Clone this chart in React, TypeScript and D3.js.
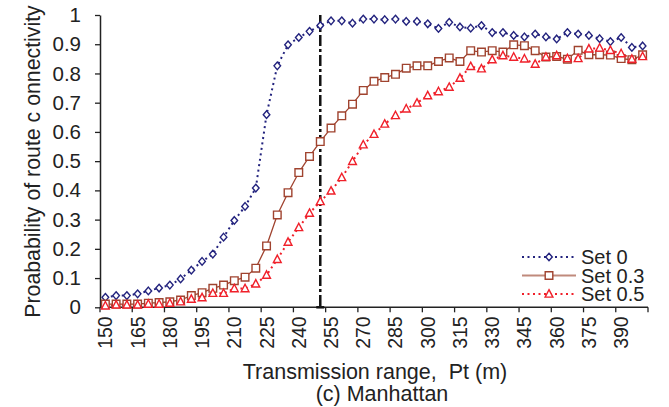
import { useRef, useEffect } from "react";
import * as d3 from "d3";

// transmission range categories (m)
const ranges = d3.range(150, 401, 5);

const set0 = [
  0.034, 0.04, 0.04, 0.046, 0.056, 0.066, 0.076, 0.097, 0.127, 0.157,
  0.182, 0.24, 0.297, 0.345, 0.408, 0.659, 0.826, 0.898, 0.923, 0.944,
  0.964, 0.98, 0.98, 0.972, 0.986, 0.986, 0.984, 0.986, 0.978, 0.978,
  0.97, 0.954, 0.975, 0.959, 0.955, 0.964, 0.94, 0.94, 0.93, 0.925,
  0.935, 0.925, 0.918, 0.94, 0.935, 0.93, 0.919, 0.909, 0.923, 0.889,
  0.894,
];

const set03 = [
  0.011, 0.011, 0.011, 0.011, 0.014, 0.016, 0.019, 0.025, 0.04, 0.05,
  0.065, 0.076, 0.091, 0.103, 0.134, 0.21, 0.316, 0.392, 0.461, 0.516,
  0.567, 0.613, 0.655, 0.695, 0.742, 0.773, 0.786, 0.797, 0.818, 0.826,
  0.826, 0.841, 0.853, 0.841, 0.878, 0.873, 0.878, 0.873, 0.898, 0.895,
  0.878, 0.856, 0.858, 0.849, 0.879, 0.864, 0.864, 0.863, 0.851, 0.847,
  0.864,
];

const set05 = [
  0.005, 0.008, 0.008, 0.008, 0.011, 0.011, 0.014, 0.019, 0.028, 0.033,
  0.048, 0.048, 0.064, 0.064, 0.08, 0.11, 0.164, 0.223, 0.273, 0.322,
  0.362, 0.398, 0.444, 0.499, 0.556, 0.592, 0.627, 0.656, 0.679, 0.699,
  0.724, 0.738, 0.753, 0.784, 0.824, 0.816, 0.847, 0.861, 0.856, 0.85,
  0.832, 0.856, 0.861, 0.851, 0.851, 0.884, 0.887, 0.879, 0.868, 0.849,
  0.858,
];

const yTicks = [0, 0.1, 0.2, 0.3, 0.4, 0.5, 0.6, 0.7, 0.8, 0.9, 1];
const markerRange = 250;

type Series = {
  name: string;
  values: number[];
  color: string;
  dash: string | null;
  shape: "diamond" | "square" | "triangle";
};

const series: Series[] = [
  { name: "Set 0", values: set0, color: "#23237e", dash: "2,3.5", shape: "diamond" },
  { name: "Set 0.3", values: set03, color: "#a0432f", dash: null, shape: "square" },
  { name: "Set 0.5", values: set05, color: "#f0202a", dash: "2,3.5", shape: "triangle" },
];

const W = 669;
const H = 407;
const margin = { left: 100, right: 21, top: 15, bottom: 100 };
const FONT = "'Liberation Sans', Arial, sans-serif";
const FS = 20;

function markerPath(shape: Series["shape"]) {
  if (shape === "diamond") return "M0,-3.8L3.3,0L0,3.8L-3.3,0Z";
  if (shape === "square") return "M-3.8,-3.8H3.8V3.8H-3.8Z";
  return "M0,-4.3L3.9,3.1L-3.9,3.1Z";
}

function Chart() {
  const ref = useRef<SVGSVGElement>(null);

  useEffect(() => {
    if (!ref.current) return;
    const svg = d3.select(ref.current);
    svg.selectAll("*").remove();

    const x = d3
      .scaleBand<number>()
      .domain(ranges)
      .range([margin.left, W - margin.right])
      .padding(0);
    const cx = (r: number) => (x(r) as number) + x.bandwidth() / 2;

    const y = d3
      .scaleLinear()
      .domain([0, 1])
      .range([H - margin.bottom + 0.3, margin.top]);
    const y0 = y(0);

    // y axis
    const yAxis = svg
      .append("g")
      .attr("transform", `translate(${margin.left},0)`)
      .call(
        d3
          .axisLeft(y)
          .tickValues(yTicks)
          .tickSize(5)
          .tickSizeOuter(0)
          .tickPadding(14)
          .tickFormat((d) => d3.format("~g")(d as number))
      );
    yAxis.select(".domain").attr("stroke", "#222").attr("stroke-width", 1.5);
    yAxis.selectAll(".tick line").attr("stroke", "#222").attr("stroke-width", 1.3);
    yAxis
      .selectAll("text")
      .attr("font-family", FONT)
      .attr("font-size", 20.5)
      .attr("fill", "#222");

    // x axis: tick marks on category boundaries every 3 categories
    const xg = svg.append("g");
    xg.append("line")
      .attr("x1", margin.left)
      .attr("x2", W - margin.right)
      .attr("y1", y0)
      .attr("y2", y0)
      .attr("stroke", "#222")
      .attr("stroke-width", 1.5);
    const boundaryTicks = ranges.filter((_, i) => i % 3 === 0);
    xg.selectAll("line.tk")
      .data([...boundaryTicks.map((r) => x(r) as number), W - margin.right])
      .join("line")
      .attr("class", "tk")
      .attr("x1", (d) => d)
      .attr("x2", (d) => d)
      .attr("y1", y0)
      .attr("y2", y0 + 5)
      .attr("stroke", "#222")
      .attr("stroke-width", 1.3);
    xg.selectAll("text")
      .data(boundaryTicks)
      .join("text")
      .attr("transform", (d) => `translate(${cx(d) + 7},${y0 + 9}) rotate(-90)`)
      .attr("text-anchor", "end")
      .attr("font-family", FONT)
      .attr("font-size", 19.5)
      .attr("fill", "#222")
      .text((d) => String(d));

    // vertical reference line
    const vx = cx(markerRange);
    svg
      .append("line")
      .attr("x1", vx)
      .attr("x2", vx)
      .attr("y1", y(1))
      .attr("y2", y0)
      .attr("stroke", "#111")
      .attr("stroke-width", 2.5)
      .attr("stroke-dasharray", "11,3,3,3");
    svg
      .append("line")
      .attr("x1", vx - 4)
      .attr("x2", vx + 4)
      .attr("y1", y0)
      .attr("y2", y0)
      .attr("stroke", "#111")
      .attr("stroke-width", 2.5);

    // series lines + markers
    series.forEach((s) => {
      const line = d3
        .line<number>()
        .x((_, i) => cx(ranges[i]))
        .y((d) => y(d));
      svg
        .append("path")
        .datum(s.values)
        .attr("fill", "none")
        .attr("stroke", s.color)
        .attr("stroke-width", s.dash ? 2 : 1.3)
        .attr("stroke-dasharray", s.dash)
        .attr("d", line);
    });
    series.forEach((s) => {
      svg
        .append("g")
        .selectAll("path")
        .data(s.values)
        .join("path")
        .attr("transform", (d, i) => `translate(${cx(ranges[i])},${y(d)})`)
        .attr("d", markerPath(s.shape))
        .attr("fill", "white")
        .attr("stroke", s.color)
        .attr("stroke-width", 1.4);
    });

    // legend
    const lg = svg.append("g").attr("transform", "translate(522,257)");
    series.forEach((s, i) => {
      const row = lg.append("g").attr("transform", `translate(0,${i * 18.5})`);
      row
        .append("line")
        .attr("x1", 0)
        .attr("x2", 54)
        .attr("stroke", s.dash ? s.color : "#c08a7c")
        .attr("stroke-width", 2)
        .attr("stroke-dasharray", s.dash);
      row
        .append("path")
        .attr("transform", "translate(27,0)")
        .attr("d", markerPath(s.shape))
        .attr("fill", "white")
        .attr("stroke", s.color)
        .attr("stroke-width", 1.4);
      row
        .append("text")
        .attr("x", 59)
        .attr("y", 7)
        .attr("font-family", FONT)
        .attr("font-size", FS)
        .attr("fill", "#222")
        .text(s.name);
    });

    // axis titles
    svg
      .append("text")
      .attr("x", 375)
      .attr("y", 379)
      .attr("text-anchor", "middle")
      .attr("font-family", FONT)
      .attr("font-size", 21.5)
      .attr("fill", "#222")
      .style("white-space", "pre")
      .text("Transmission range,  Pt (m)");
    svg
      .append("text")
      .attr("x", 382)
      .attr("y", 401)
      .attr("text-anchor", "middle")
      .attr("font-family", FONT)
      .attr("font-size", 21.5)
      .attr("fill", "#222")
      .text("(c) Manhattan");
    svg
      .append("text")
      .attr("transform", `translate(40,${161.5}) rotate(-90)`)
      .attr("text-anchor", "middle")
      .attr("font-family", FONT)
      .attr("font-size", 21.3)
      .attr("fill", "#222")
      .text("Proabability of route c onnectivity");
  }, []);

  return <svg ref={ref} width={W} height={H} style={{ display: "block" }} />;
}

export default function App() {
  return (
    <>
      <style>{"html,body{margin:0;padding:0;overflow:hidden}"}</style>
      <Chart />
    </>
  );
}
